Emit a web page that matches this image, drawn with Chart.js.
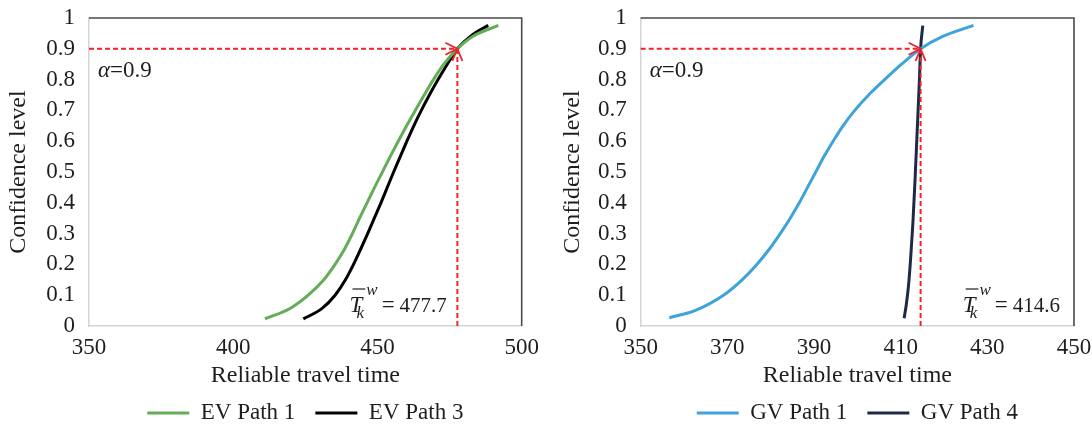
<!DOCTYPE html>
<html><head><meta charset="utf-8">
<script src="https://cdn.jsdelivr.net/npm/chart.js@4/dist/chart.umd.min.js"></script>
<style>
html,body{margin:0;padding:0;background:#fff;}
#wrap{position:relative;width:1092px;height:429px;overflow:hidden;background:#fff;}
canvas{position:absolute;top:0;}
#c1{left:0;} #c2{left:546px;}
</style></head><body>
<div id="wrap"><canvas id="c1" width="546" height="429"></canvas><canvas id="c2" width="546" height="429"></canvas></div>
<script>
// ---------- data ----------
const yTickValues = [0, 0.1, 0.2, 0.3, 0.4, 0.5, 0.6, 0.7, 0.8, 0.9, 1];
const yTickLabels = ['0', '0.1', '0.2', '0.3', '0.4', '0.5', '0.6', '0.7', '0.8', '0.9', '1'];
const evXTicks = [350, 400, 450, 500];
const gvXTicks = [350, 370, 390, 410, 430, 450];

const evPath1X = [411.0, 419.7, 426.0, 431.4, 435.3, 438.6, 441.3, 443.8, 446.4, 449.0, 451.7, 454.4, 457.2, 460.1, 463.1, 466.2, 469.4, 473.0, 477.7, 483.0, 491.9];
const evPath1Y = [0.023, 0.057, 0.10, 0.15, 0.20, 0.25, 0.30, 0.35, 0.40, 0.45, 0.50, 0.55, 0.60, 0.65, 0.70, 0.75, 0.80, 0.85, 0.90, 0.94, 0.976];
const evPath3X = [424.3, 430.8, 435.3, 438.9, 441.7, 444.2, 446.6, 448.9, 451.2, 453.4, 455.6, 457.9, 460.2, 462.6, 465.2, 468.0, 471.0, 474.2, 477.7, 483.0, 488.4];
const evPath3Y = [0.023, 0.057, 0.10, 0.15, 0.20, 0.25, 0.30, 0.35, 0.40, 0.45, 0.50, 0.55, 0.60, 0.65, 0.70, 0.75, 0.80, 0.85, 0.90, 0.946, 0.976];

const gvPath1X = [356.6, 362.5, 369.1, 373.4, 376.8, 379.7, 382.2, 384.5, 386.6, 388.5, 390.4, 392.3, 394.4, 396.7, 399.4, 402.6, 406.3, 410.2, 414.6, 419.7, 426.8];
const gvPath1Y = [0.027, 0.05, 0.10, 0.15, 0.20, 0.25, 0.30, 0.35, 0.40, 0.45, 0.50, 0.55, 0.60, 0.65, 0.70, 0.75, 0.80, 0.85, 0.90, 0.94, 0.976];
const gvPath4X = [410.8, 411.3, 411.8, 412.3, 412.8, 413.3, 413.8, 414.3, 414.6, 415.1];
const gvPath4Y = [0.025, 0.070, 0.130, 0.220, 0.330, 0.470, 0.630, 0.790, 0.900, 0.975];

const alphaLevel = 0.9;
const evReliableTime = 477.7;
const gvReliableTime = 414.6;

// ---------- helpers ----------
const FONT = '"Liberation Serif", "Times New Roman", serif';
const TXT = '#1e1e1e';
const pts = (xs, ys) => xs.map((x, i) => ({x, y: ys[i]}));

const legendPlace = {
  id: 'legendPlace',
  afterLayout(chart, args, opts) {
    const lg = chart.legend; if (!lg) return;
    const ca = chart.chartArea;
    const dx = (ca.left + ca.right) / 2 - (lg.left + lg.right) / 2;
    lg.left += dx; lg.right += dx;
    const lo = lg.options.labels;
    const ih = Math.max(lo.font.size, lo.boxHeight);
    lg.top = opts.textY - lo.padding - ih / 2;
    lg.bottom = chart.height;
    lg.height = lg.bottom - lg.top;
  }
};

const frame = {
  id: 'frame',
  afterDraw(chart) {
    const {ctx, chartArea: ca} = chart;
    ctx.save();
    ctx.strokeStyle = '#4a4a4a'; ctx.lineWidth = 1.6;
    ctx.beginPath();
    ctx.moveTo(ca.left, ca.top); ctx.lineTo(ca.right, ca.top); ctx.lineTo(ca.right, ca.bottom);
    ctx.stroke();
    ctx.restore();
  }
};

const reliability = {
  id: 'reliability',
  afterDatasetsDraw(chart, args, o) {
    const {ctx, chartArea: ca, scales: {x, y}} = chart;
    const tx = x.getPixelForValue(o.time), ty = y.getPixelForValue(o.alpha);
    ctx.save();
    ctx.strokeStyle = '#e8262b'; ctx.lineWidth = 2; ctx.setLineDash([5, 3]);
    ctx.beginPath(); ctx.moveTo(ca.left, ty); ctx.lineTo(tx - 1, ty); ctx.stroke();
    ctx.beginPath(); ctx.moveTo(tx, ca.bottom); ctx.lineTo(tx, ty + 1); ctx.stroke();
    ctx.setLineDash([]); ctx.lineWidth = 1.8;
    ctx.beginPath();
    ctx.moveTo(tx - 12, ty - 6); ctx.lineTo(tx, ty); ctx.lineTo(tx - 12, ty + 6);
    ctx.moveTo(tx - 5, ty + 12); ctx.lineTo(tx, ty); ctx.lineTo(tx + 5, ty + 12);
    ctx.stroke();

    // alpha text
    ctx.fillStyle = TXT; ctx.textBaseline = 'alphabetic'; ctx.textAlign = 'left';
    let ax = ca.left + 9; const ay = ty + 28;
    ctx.font = 'italic 23px ' + FONT; ctx.fillText('α', ax, ay); ax += ctx.measureText('α').width;
    ctx.font = '23px ' + FONT; ctx.fillText('=' + o.alpha, ax, ay);

    // T label
    const base = ca.bottom - 14;
    ctx.font = 'italic 23px ' + FONT; const wT = ctx.measureText('T').width;
    ctx.font = 'italic 17px ' + FONT; const wW = ctx.measureText('w').width;
    ctx.font = '23px ' + FONT; const wEq = ctx.measureText('=').width;
    ctx.font = '21px ' + FONT; const num = o.time.toFixed(1); const wN = ctx.measureText(num).width;
    const total = wT + 4 + wW + 4 + wEq + 5 + wN;
    const endX = o.labelAtLine ? tx - 10.5 : ca.right - 14;
    const sx = endX - total;
    ctx.font = 'italic 23px ' + FONT; ctx.fillText('T', sx, base);
    ctx.strokeStyle = TXT; ctx.lineWidth = 1.2;
    ctx.beginPath(); ctx.moveTo(sx + 3, base - 23); ctx.lineTo(sx + wT + 3, base - 23); ctx.stroke();
    ctx.font = 'italic 17px ' + FONT;
    ctx.fillText('k', sx + wT * 0.55, base + 6);
    ctx.fillText('w', sx + wT + 4, base - 17);
    let cx = sx + wT + 4 + wW + 4;
    ctx.font = '23px ' + FONT; ctx.fillText('=', cx, base); cx += wEq + 5;
    ctx.font = '21px ' + FONT; ctx.fillText(num, cx, base);
    ctx.restore();
  }
};

function makeChart(canvas, cfg) {
  return new Chart(canvas, {
    type: 'scatter',
    data: {
      datasets: cfg.series.map(s => ({
        label: s.label, data: pts(s.x, s.y), showLine: true,
        borderColor: s.color, backgroundColor: s.color, borderWidth: 3,
        pointRadius: 0, pointHoverRadius: 0, cubicInterpolationMode: 'monotone', fill: false
      }))
    },
    options: {
      responsive: false, animation: false, events: [],
      layout: {padding: {left: 0, right: cfg.padRight, top: 18, bottom: 0}},
      scales: {
        x: {
          type: 'linear', min: cfg.xTicks[0], max: cfg.xTicks[cfg.xTicks.length - 1],
          afterBuildTicks: sc => { sc.ticks = cfg.xTicks.map(v => ({value: v})); },
          afterFit: sc => { sc.height = 83; sc.paddingLeft = 0; sc.paddingRight = 0; },
          grid: {display: false, drawTicks: false},
          border: {display: true, color: '#d4d4d4', width: 1.5},
          ticks: {padding: 8, autoSkip: false, color: TXT, font: {family: FONT, size: 23}, maxRotation: 0},
          title: {display: true, text: 'Reliable travel time', color: TXT,
                  font: {family: FONT, size: 24}, padding: {top: 0, bottom: 18.6}}
        },
        y: {
          type: 'linear', min: 0, max: 1,
          afterBuildTicks: sc => { sc.ticks = yTickValues.map(v => ({value: v})); },
          afterFit: sc => { sc.width = cfg.yWidth; sc.paddingTop = 0; sc.paddingBottom = 0; },
          grid: {display: false, drawTicks: false},
          border: {display: true, color: '#d4d4d4', width: 1.5},
          ticks: {padding: 14, autoSkip: false, color: TXT, font: {family: FONT, size: 23},
                  callback: (v) => yTickLabels[Math.round(v * 10)]},
          title: {display: true, text: 'Confidence level', color: TXT,
                  font: {family: FONT, size: 24}, padding: {top: cfg.yTitlePad, bottom: 0}}
        }
      },
      plugins: {
        tooltip: {enabled: false},
        legend: {
          position: 'bottom', maxHeight: 20,
          labels: {
            boxWidth: 42, boxHeight: 3, padding: 20, color: TXT,
            font: {family: FONT, size: 23},
            generateLabels: ch => Chart.defaults.plugins.legend.labels.generateLabels(ch)
              .map(l => Object.assign(l, {lineWidth: 0, fillStyle: l.strokeStyle}))
          }
        },
        legendPlace: {textY: 413},
        reliability: {alpha: alphaLevel, time: cfg.time, labelAtLine: cfg.labelAtLine}
      }
    },
    plugins: [legendPlace, reliability, frame]
  });
}

makeChart(document.getElementById('c1'), {
  series: [
    {label: 'EV Path 1', x: evPath1X, y: evPath1Y, color: '#62ad55'},
    {label: 'EV Path 3', x: evPath3X, y: evPath3Y, color: '#000000'}
  ],
  xTicks: evXTicks, time: evReliableTime, labelAtLine: true,
  padRight: 24.3, yWidth: 89, yTitlePad: 4
});
makeChart(document.getElementById('c2'), {
  series: [
    {label: 'GV Path 1', x: gvPath1X, y: gvPath1Y, color: '#3ea3d8'},
    {label: 'GV Path 4', x: gvPath4X, y: gvPath4Y, color: '#1c2a46'}
  ],
  xTicks: gvXTicks, time: gvReliableTime, labelAtLine: false,
  padRight: 18, yWidth: 94.7, yTitlePad: 12.6
});
</script>
</body></html>
